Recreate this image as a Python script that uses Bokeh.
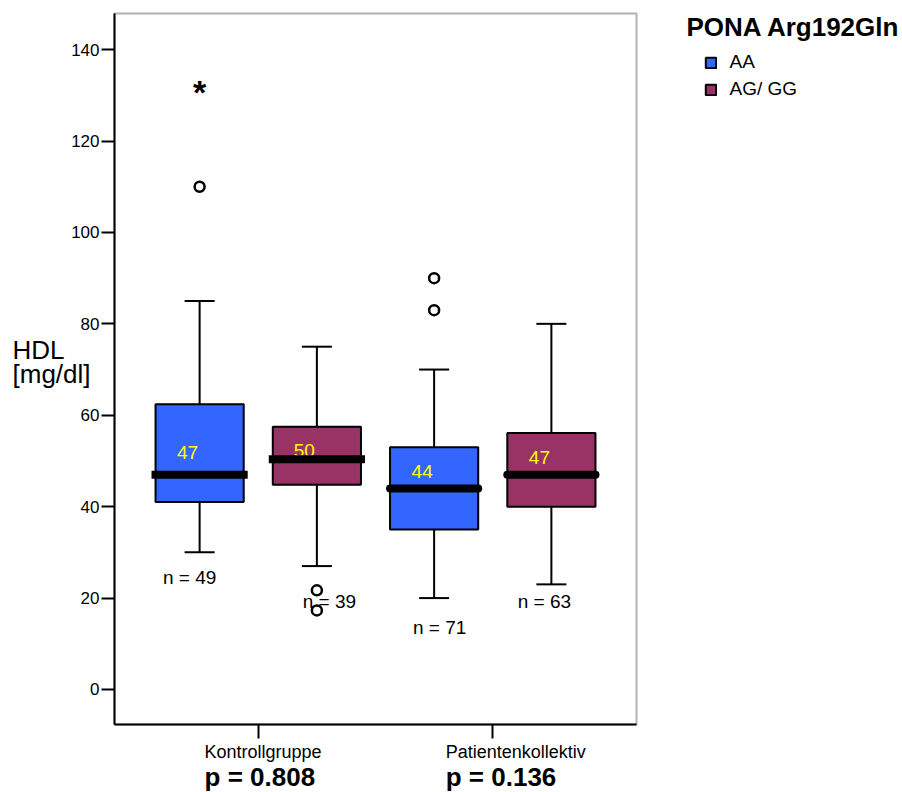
from bokeh.plotting import figure
from bokeh.models import (Range1d, FixedTicker, Label, Legend, LegendItem,
                          LinearAxis, BoxAnnotation)
from bokeh.core.properties import value
from bokeh.embed import file_html
from bokeh.resources import INLINE

# ---------------- data ----------------
categories = ["Kontrollgruppe", "Patientenkollektiv"]
groups = ["AA", "AG/ GG"]
p_values = ["p = 0.808", "p = 0.136"]
legend_title = "PONA Arg192Gln"
y_title = ["HDL", "[mg/dl]"]

# box order: Kontroll-AA, Kontroll-AG/GG, Patient-AA, Patient-AG/GG
box_cat = [0, 0, 1, 1]
box_grp = [0, 1, 0, 1]
q1 = [41, 44.8, 35, 40]
median = [47, 50.4, 44, 47]
q3 = [62.4, 57.5, 53, 56.1]
whisker_low = [30, 27, 20, 23]
whisker_high = [85, 75, 70, 80]
n_counts = [49, 39, 71, 63]
median_text = ["47", "50", "44", "47"]

outlier_box = [0, 1, 1, 2, 2]
outlier_val = [110, 21.7, 17.3, 90, 83]
extreme_box = [0]
extreme_val = [131.5]

y_ticks = [0, 20, 40, 60, 80, 100, 120, 140]

# ---------------- style / layout ----------------
FONT = "Liberation Sans"
colors = ["#3366ff", "#993366"]
group_offset = [-0.25, 0.25]
box_w = 0.376
cap_w = 0.128

W, H = 902, 792
# inner plot box (data) and where it sits on the canvas (px)
x_lo, x_hi, y_lo, y_hi = -0.613, 1.613, -7.66, 147.9
f_left, f_right, f_top, f_bottom = 114, 636, 13, 724
sx = (f_right - f_left) / (x_hi - x_lo)
sy = (f_bottom - f_top) / (y_hi - y_lo)
x_range = Range1d(x_lo - f_left / sx, x_hi + (W - f_right) / sx)
y_range = Range1d(y_lo - (H - f_bottom) / sy, y_hi + f_top / sy)

xs = [box_cat[i] + group_offset[box_grp[i]] for i in range(4)]

p = figure(width=W, height=H, output_backend="svg", toolbar_location=None,
           x_range=x_range, y_range=y_range,
           x_axis_location=None, y_axis_location=None,
           min_border=0, min_border_left=0, min_border_right=0,
           min_border_top=0, min_border_bottom=0)
p.title = None
p.grid.visible = False
p.outline_line_color = None
p.background_fill_color = "white"
p.border_fill_color = "white"

# y axis
ya = LinearAxis(fixed_location=x_lo, bounds=(y_lo, y_hi), ticker=FixedTicker(ticks=y_ticks))
ya.minor_tick_line_color = None
ya.major_tick_out = 13
ya.major_tick_in = 0
ya.major_tick_line_width = 2
ya.axis_line_width = 2
ya.major_label_standoff = 2
ya.major_label_text_font = FONT
ya.major_label_text_font_size = "17px"
ya.major_label_text_color = "black"
p.add_layout(ya, "left")

# x axis
xa = LinearAxis(fixed_location=y_lo, bounds=(x_lo, x_hi), ticker=FixedTicker(ticks=[0, 1]))
xa.major_label_overrides = {0: "", 1: ""}
xa.minor_tick_line_color = None
xa.major_tick_out = 14
xa.major_tick_in = 0
xa.major_tick_line_width = 2
xa.axis_line_width = 2
p.add_layout(xa, "below")

# plot box outline
p.add_layout(BoxAnnotation(left=x_lo, right=x_hi, bottom=y_lo, top=y_hi,
                           fill_alpha=0, line_color="black", line_width=2))

# whiskers
p.segment(x0=xs, y0=q3, x1=xs, y1=whisker_high, line_color="black", line_width=2)
p.segment(x0=xs, y0=q1, x1=xs, y1=whisker_low, line_color="black", line_width=2)
p.segment(x0=[x - cap_w / 2 for x in xs], y0=whisker_high,
          x1=[x + cap_w / 2 for x in xs], y1=whisker_high, line_color="black", line_width=2)
p.segment(x0=[x - cap_w / 2 for x in xs], y0=whisker_low,
          x1=[x + cap_w / 2 for x in xs], y1=whisker_low, line_color="black", line_width=2)

# boxes per group
box_renderers = []
for g in range(2):
    idx = [i for i in range(4) if box_grp[i] == g]
    r = p.vbar(x=[xs[i] for i in idx], width=box_w,
               bottom=[q1[i] for i in idx], top=[q3[i] for i in idx],
               fill_color=colors[g], line_color="black", line_width=2)
    box_renderers.append(r)

# median labels (yellow)
med_dx = [-12, -12.5, -12, -12]
med_dy = [-22, -8.7, -17, -17.6]
p.text(x=xs, y=median, text=median_text, x_offset=med_dx, y_offset=med_dy,
       text_align="center", text_baseline="middle", text_color="#ffff00",
       text_font=value(FONT), text_font_size="19px")

# medians
for c, cap in [(0, "square"), (1, "round")]:
    idx = [i for i in range(4) if box_cat[i] == c]
    p.segment(x0=[xs[i] - box_w / 2 for i in idx], y0=[median[i] for i in idx],
              x1=[xs[i] + box_w / 2 for i in idx], y1=[median[i] for i in idx],
              line_color="black", line_width=8, line_cap=cap)

# n labels
n_dx = [-10, 12.5, 5.5, -7]
n_dy = [24.7, 35.7, 29.7, 17]
p.text(x=xs, y=whisker_low, text=[f"n = {n}" for n in n_counts],
       x_offset=n_dx, y_offset=n_dy, text_align="center", text_baseline="middle",
       text_color="black", text_font=value(FONT), text_font_size="19px")

# outliers
p.scatter(x=[xs[b] for b in outlier_box], y=outlier_val, marker="circle", size=10,
          fill_color="white", line_color="black", line_width=2.5)
# extremes
p.text(x=[xs[b] for b in extreme_box], y=extreme_val, text=["*"] * len(extreme_val),
       y_offset=4, text_align="center", text_baseline="alphabetic",
       text_color="black", text_font=value(FONT), text_font_size="34px",
       text_font_style="bold")

# category & p-value labels below axis (left aligned)
cat_dx = [-53.7, -47]
for i, c in enumerate(categories):
    p.add_layout(Label(x=i, y=H - 751.5, x_units="data", y_units="screen", x_offset=cat_dx[i],
                       text=c, text_font=FONT, text_font_size="18px",
                       text_color="black", text_align="left", text_baseline="middle"))
    p.add_layout(Label(x=i, y=H - 776.5, x_units="data", y_units="screen", x_offset=cat_dx[i],
                       text=p_values[i], text_font=FONT, text_font_size="26px",
                       text_font_style="bold", text_color="black",
                       text_align="left", text_baseline="middle"))

# y axis title (horizontal, two lines)
for t, mid in zip(y_title, [349.3, 373.5]):
    p.add_layout(Label(x=12, y=H - mid, x_units="screen", y_units="screen", text=t,
                       text_font=FONT, text_font_size="26px", text_color="black",
                       text_baseline="middle"))

# legend
p.add_layout(Label(x=686, y=H - 26.5, x_units="screen", y_units="screen", text=legend_title,
                   text_font=FONT, text_font_size="26px", text_font_style="bold",
                   text_color="black", text_baseline="middle"))
legend = Legend(items=[LegendItem(label=groups[g], renderers=[box_renderers[g]]) for g in range(2)],
                location=(703.5, H - 100.3), padding=0, margin=0, spacing=5,
                glyph_width=13, glyph_height=13, label_height=22, label_standoff=13,
                label_text_font=FONT, label_text_font_size="19px", label_text_color="black",
                border_line_color=None, background_fill_alpha=0)
p.add_layout(legend)

open("out.html", "w").write(file_html(p, INLINE))
